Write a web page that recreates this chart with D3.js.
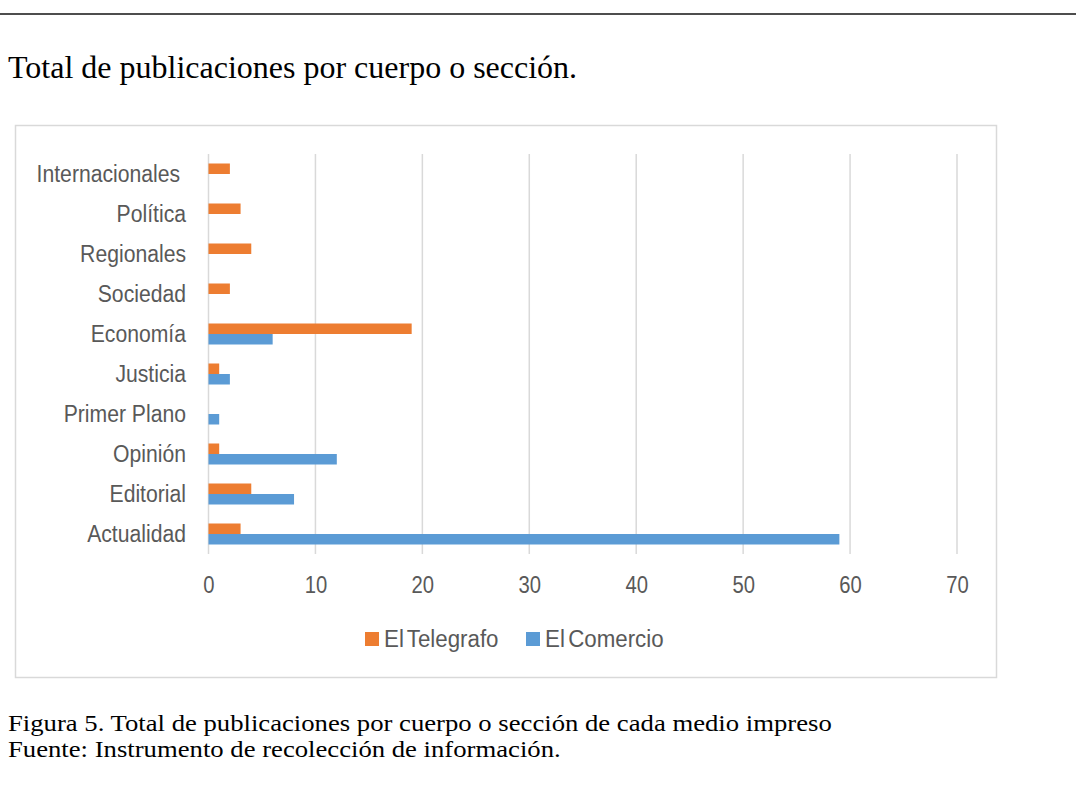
<!DOCTYPE html>
<html><head><meta charset="utf-8">
<script src="https://cdn.jsdelivr.net/npm/d3@7/dist/d3.min.js"></script>
<style>body{margin:0;background:#fff;} svg{display:block;}</style>
</head><body>
<svg id="c" width="1076" height="798"></svg>
<script>
const categories = ["Internacionales ","Política","Regionales","Sociedad","Economía","Justicia","Primer Plano","Opinión","Editorial","Actualidad"];
const seriesNames = ["El Telegrafo","El Comercio"];
const telegrafo = [2,3,4,2,19,1,0,1,4,3];
const comercio  = [0,0,0,0,6,2,1,12,8,59];
const xTicks = [0,10,20,30,40,50,60,70];
const colors = ["#ED7D31","#5B9BD5"];

const svg = d3.select("#c");
const W = 1076;
const font = "Liberation Sans, Arial, sans-serif";
const serif = "Liberation Serif, Times New Roman, serif";
function condense(sel, f){
  sel.each(function(){
    const L = this.getComputedTextLength();
    d3.select(this).attr("textLength", L*f).attr("lengthAdjust","spacingAndGlyphs");
  });
}

svg.append("line").attr("x1",0).attr("x2",W).attr("y1",14).attr("y2",14).attr("stroke","#4d4d4d").attr("stroke-width",2);
svg.append("text").attr("x",8).attr("y",78).attr("font-family",serif)
  .attr("font-size",32).attr("fill","#000").text("Total de publicaciones por cuerpo o sección.");
svg.append("rect").attr("x",15.5).attr("y",125.5).attr("width",981).attr("height",552)
  .attr("fill","#fff").attr("stroke","#d9d9d9").attr("stroke-width",1.5);

const x = d3.scaleLinear().domain([0,70]).range([208.5,957]);
const y = d3.scaleBand().domain(categories).range([154,554]).paddingInner(0.475).paddingOuter(0.2375);
const inner = d3.scaleBand().domain(seriesNames).range([0,y.bandwidth()]);

const g = svg.append("g");
g.selectAll("line.grid").data(xTicks).join("line").attr("class","grid")
  .attr("x1",d=>x(d)).attr("x2",d=>x(d)).attr("y1",154).attr("y2",554)
  .attr("stroke","#d9d9d9").attr("stroke-width",1.5);

const data = categories.map((c,i)=>({cat:c, vals:[telegrafo[i],comercio[i]]}));
const rows = g.selectAll("g.row").data(data).join("g").attr("transform",d=>`translate(0,${y(d.cat)})`);
rows.selectAll("rect").data(d=>d.vals.map((v,j)=>({v,s:seriesNames[j],c:colors[j]}))).join("rect")
  .attr("x",x(0)).attr("y",d=>inner(d.s)).attr("height",inner.bandwidth())
  .attr("width",d=>x(d.v)-x(0)).attr("fill",d=>d.c);

const ylabs = g.selectAll("text.ylab").data(categories).join("text").attr("class","ylab")
  .attr("x",186).attr("y",d=>y(d)+y.bandwidth()/2).attr("dy","0.35em")
  .attr("text-anchor","end").attr("font-family",font).attr("font-size",23).attr("fill","#595959")
  .style("white-space","pre").text(d=>d);
condense(ylabs, 0.92);

const xAxis = d3.axisBottom(x).tickValues(xTicks).tickSize(0).tickPadding(0);
const ax = svg.append("g").attr("transform","translate(0,585)").call(xAxis);
ax.select(".domain").remove();
ax.selectAll("text").attr("font-family",font).attr("font-size",23).attr("fill","#595959").attr("dy","0.35em");
condense(ax.selectAll("text"), 0.88);

const leg = svg.append("g").attr("transform","translate(365,639)");
const legX = [0,161];
seriesNames.forEach((s,i)=>{
  leg.append("rect").attr("x",legX[i]).attr("y",-7).attr("width",14).attr("height",14).attr("fill",colors[i]);
  const t = leg.append("text").attr("x",legX[i]+19).attr("y",0).attr("dy","0.35em").attr("font-family",font)
    .attr("font-size",23).attr("fill","#595959").attr("word-spacing","-3").text(s);
  condense(t, 0.97);
});

const f1 = svg.append("text").attr("x",8).attr("y",731).attr("font-family",serif).attr("font-size",23).attr("fill","#000")
  .text("Figura 5. Total de publicaciones por cuerpo o sección de cada medio impreso");
const f2 = svg.append("text").attr("x",8).attr("y",757).attr("font-family",serif).attr("font-size",23).attr("fill","#000")
  .text("Fuente: Instrumento de recolección de información.");
condense(f1, 1.16);
condense(f2, 1.16);
</script>
</body></html>
